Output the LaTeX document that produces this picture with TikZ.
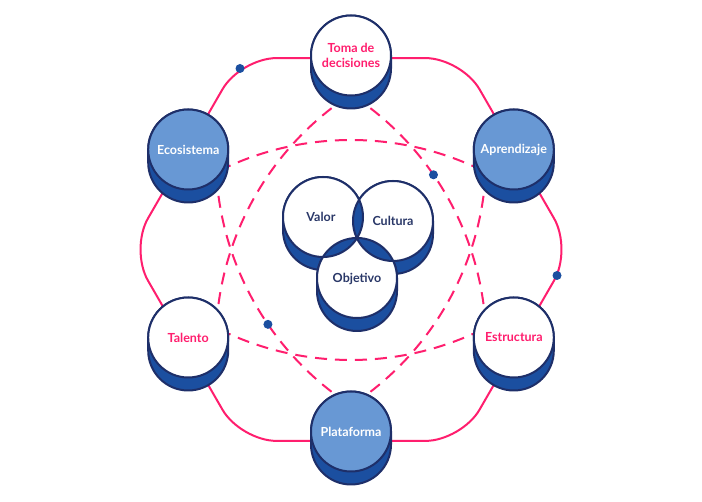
\documentclass[tikz,border=0pt]{standalone}
\usepackage{fontspec}
\setmainfont{Lato}
\usetikzlibrary{calc}
\definecolor{pinkc}{RGB}{255,30,110}
\definecolor{navy}{RGB}{30,47,105}
\definecolor{royal}{RGB}{27,79,160}
\definecolor{lightb}{RGB}{104,152,212}
\definecolor{txtnavy}{RGB}{42,56,104}
\newcommand\cylbody[2]{\path[body] (#1-40,#2) -- (#1-40,#2-13) arc[start angle=180,end angle=360,radius=40] -- (#1+40,#2) arc[start angle=0,end angle=180,radius=40] -- cycle;}
\begin{document}
\begin{tikzpicture}[x=1pt,y=1pt,
  pinkline/.style={draw=pinkc, line width=2pt},
  dashline/.style={draw=pinkc, line width=2pt, dash pattern=on 12pt off 8pt},
  face/.style={circle, minimum size=80pt, inner sep=0pt, draw=navy, line width=2pt, font=\bfseries\fontsize{12.5}{15}\selectfont, align=center},
  whiteface/.style={face, fill=white, text=pinkc},
  blueface/.style={face, fill=lightb, text=white},
  vennface/.style={circle, minimum size=80pt, inner sep=0pt, fill=white},
  venntext/.style={font=\bfseries\fontsize{12.5}{15}\selectfont, text=txtnavy, inner sep=0pt},
  body/.style={fill=royal, draw=navy, line width=2pt},
  dot/.style={circle, fill=royal, minimum size=9pt, inner sep=0pt},
]
\fill[white] (0,0) rectangle (702,502);
\useasboundingbox (0,0) rectangle (702,502);

% mid centres of the outer nodes
\coordinate (Tm) at (351,440);
\coordinate (Am) at (513.8,346);
\coordinate (Sm) at (513.8,158);
\coordinate (Pm) at (351,64);
\coordinate (Lm) at (188.2,158);
\coordinate (Em) at (188.2,346);

% outer rounded hexagon
\draw[pinkline, rounded corners=36pt] (351,443.9) -- (461.5,443.9) -- (572,252.5) -- (461.5,61.1) -- (240.5,61.1) -- (130,252.5) -- (240.5,443.9) -- cycle;

% dashed curved hexagram
\draw[dashline] (Pm) ++(120:298) arc[start angle=120, end angle=60, radius=298];
\draw[dashline] (Tm) ++(240:298) arc[start angle=240, end angle=300, radius=298];
\draw[dashline] (Lm) ++(60:298) arc[start angle=60, end angle=0, radius=298];
\draw[dashline] (Sm) ++(120:298) arc[start angle=120, end angle=180, radius=298];
\draw[dashline] (Am) ++(180:298) arc[start angle=180, end angle=240, radius=298];
\draw[dashline] (Em) ++(0:298) arc[start angle=0, end angle=-60, radius=298];

% dots
\node[dot] (d1) at (240,433.5) {};
\node[dot] (d2) at (557,226.5) {};
\node[dot] (d3) at ($(Lm)+(34.6:298)$) {};
\node[dot] (d4) at ($(Am)+(214.4:298)$) {};

% outer nodes
\cylbody{351}{446.5}
\node[whiteface] (T) at (351,446.5) {Toma de\\decisiones};
\cylbody{188.2}{352.5}
\node[blueface] (E) at (188.2,352.5) {Ecosistema};
\cylbody{513.8}{352.5}
\node[blueface] (A) at (513.8,352.5) {Aprendizaje};
\cylbody{188.2}{164.5}
\node[whiteface] (L) at (188.2,164.5) {Talento};
\cylbody{513.8}{164.5}
\node[whiteface] (S) at (513.8,164.5) {Estructura};
\cylbody{351}{70.5}
\node[blueface] (P) at (351,70.5) {Plataforma};

% centre Venn
\cylbody{323}{285}
\cylbody{393}{281}
\cylbody{357}{224}
\node[vennface] (V) at (323,285) {};
\node[vennface] (C) at (393,281) {};
\node[vennface] (O) at (357,224) {};
\begin{scope}
  \clip (V) circle[radius=40];
  \fill[royal] (C) circle[radius=40];
  \fill[royal] (O) circle[radius=40];
\end{scope}
\begin{scope}
  \clip (C) circle[radius=40];
  \fill[royal] (O) circle[radius=40];
\end{scope}
\draw[navy, line width=2pt] (V) circle[radius=40];
\draw[navy, line width=2pt] (C) circle[radius=40];
\draw[navy, line width=2pt] (O) circle[radius=40];
\node[venntext] (Vt) at ([xshift=-2pt]V) {Valor};
\node[venntext] (Ct) at (C) {Cultura};
\node[venntext] (Ot) at ([yshift=-1pt]O) {Objetivo};
\end{tikzpicture}
\end{document}
